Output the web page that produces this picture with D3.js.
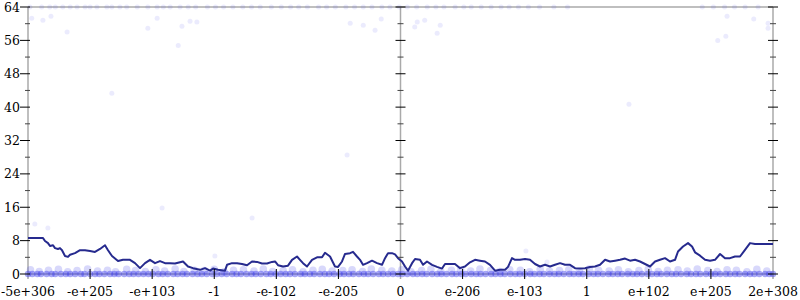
<!DOCTYPE html>
<html>
<head>
<meta charset="utf-8">
<script src="https://cdn.jsdelivr.net/npm/d3@7"></script>
<style>
  body { margin: 0; background: #fff; }
  text { font-family: "DejaVu Serif", serif; font-size: 12.5px; fill: #000; }
</style>
</head>
<body>
<svg id="chart" width="800" height="300"></svg>
<script>
// tick labels along the float-ordered x axis (one every 10 units)
const xTickLabels = ['-5e+306', '-e+205', '-e+103', '-1', '-e-102', '-e-205', '0',
  'e-206', 'e-103', '1', 'e+102', 'e+205', '2e+308']
const yTicks = [0, 8, 16, 24, 32, 40, 48, 56, 64]

// averaged error line: positions (0..120) and bits of error
const lineX = [0, 2.42, 2.74, 3.22, 3.54, 4.03, 4.35, 4.83, 5.15, 5.48, 5.96, 6.44, 6.77, 7.57,
  8.38, 9.18, 9.99, 10.79, 11.6, 12.4, 12.89, 13.53, 14.5, 15.3, 16.43, 17.24, 18.04, 18.85,
  19.65, 20.46, 21.26, 22.07, 22.87, 23.68, 24.97, 25.77, 26.58, 27.71, 28.51, 29.32, 29.8,
  30.61, 31.73, 32.06, 32.86, 33.67, 34.47, 35.28, 36.08, 36.89, 37.69, 38.5, 39.3, 39.79,
  40.27, 41.08, 41.88, 42.53, 43.33, 43.81, 44.3, 44.94, 45.75, 46.55, 47.36, 47.84, 48.65,
  49.45, 49.94, 50.58, 51.06, 51.87, 52.35, 52.99, 53.48, 53.96, 54.61, 55.41, 56.22, 57.02,
  57.51, 57.99, 58.63, 59.12, 59.6, 60.24, 60.73, 61.21, 61.86, 62.34, 63.14, 63.63, 64.27,
  65.08, 65.88, 66.69, 67.17, 67.98, 68.78, 69.59, 70.39, 71.2, 72.0, 72.81, 73.61, 74.42,
  75.23, 76.03, 76.84, 77.32, 77.96, 78.45, 79.25, 80.06, 80.86, 81.67, 82.47, 83.28, 84.09,
  84.89, 85.7, 86.5, 87.31, 88.11, 88.92, 89.72, 90.53, 91.33, 92.14, 92.95, 93.75, 94.56,
  95.36, 96.17, 96.97, 97.78, 98.58, 99.39, 100.19, 101.0, 101.8, 102.61, 103.41, 104.22,
  104.7, 105.51, 106.31, 106.96, 107.44, 108.25, 109.05, 109.86, 110.66, 111.47, 112.27,
  113.08, 113.88, 114.69, 115.49, 116.3, 117.1, 117.91, 120]
const lineErr = [8.6, 8.6, 7.9, 7.4, 6.7, 6.9, 6.2, 6.0, 6.2, 5.7, 4.3, 4.1, 4.6, 5.0, 5.7,
  5.7, 5.5, 5.3, 6.0, 6.9, 5.7, 4.3, 3.1, 3.4, 3.4, 2.6, 1.4, 2.6, 3.4, 2.6, 3.1, 2.6, 2.6,
  2.5, 3.0, 1.8, 1.4, 1.0, 1.4, 0.8, 1.3, 1.0, 0.8, 2.2, 2.6, 2.6, 2.4, 2.1, 3.0, 2.9, 2.5,
  2.5, 2.9, 3.0, 2.1, 1.8, 2.0, 3.4, 4.2, 3.4, 2.6, 1.8, 3.4, 4.0, 4.0, 5.1, 4.2, 1.8, 1.7,
  3.0, 4.8, 5.0, 5.3, 4.2, 3.4, 2.2, 2.6, 3.2, 2.6, 2.2, 3.8, 5.0, 5.0, 4.7, 3.8, 3.0, 1.8,
  0.8, 2.6, 3.6, 3.4, 2.2, 3.0, 2.2, 1.7, 1.3, 2.4, 2.4, 2.4, 1.4, 1.8, 2.8, 3.4, 3.2, 3.0,
  2.2, 0.8, 1.0, 1.0, 1.7, 3.8, 3.4, 3.4, 3.6, 3.4, 2.4, 1.8, 2.2, 1.8, 2.2, 2.6, 2.2, 2.2,
  1.4, 1.3, 1.4, 1.7, 1.8, 2.2, 3.4, 3.0, 3.2, 3.4, 3.7, 3.2, 3.4, 3.0, 2.4, 1.8, 3.0, 3.4,
  3.8, 3.0, 3.4, 5.4, 6.6, 7.4, 6.6, 5.2, 4.4, 3.4, 3.2, 3.4, 4.8, 3.8, 3.8, 4.2, 4.2, 5.8,
  7.4, 7.2, 7.2, 7.2]

// sample points with (almost) no error
const zeroX = [0, 0.7, 1.5, 2.1, 3, 3.8, 4.4, 5.3, 6.1, 6.8, 7.6, 8.5, 9.1, 10, 10.8, 11.5, 12.3,
  13.2, 13.9, 14.6, 15.5, 16.3, 17, 17.8, 18.6, 19.4, 20.1, 21, 21.7, 22.5, 23.4, 24.1, 24.9,
  25.6, 26.5, 27.3, 28, 28.8, 29.7, 30.4, 31.2, 32, 32.9, 33.6, 34.3, 35.2, 36, 36.7, 37.5,
  38.4, 39.1, 39.9, 40.7, 41.5, 42.2, 43, 43.9, 44.6, 45.4, 46.1, 47, 47.8, 48.5, 49.3, 50.2,
  50.9, 51.7, 52.4, 53.3, 54.1, 54.8, 55.6, 56.5, 57.2, 58, 58.8, 59.6, 60.3, 61.1, 62, 62.7,
  63.5, 64.2, 65.1, 65.9, 66.6, 67.4, 68.3, 69, 69.8, 70.5, 71.4, 72.2, 72.9, 73.7, 74.6, 75.3,
  76.1, 76.8, 77.7, 78.5, 79.2, 80, 80.9, 81.6, 82.4, 83.1, 84, 84.8, 85.5, 86.3, 87.2, 87.9,
  88.7, 89.4, 90.3, 91.1, 91.8, 92.6, 93.5, 94.2, 95, 95.7, 96.6, 97.4, 98.1, 98.9, 99.8,
  100.5, 101.3, 102, 102.9, 103.7, 104.4, 105.2, 106.1, 106.8, 107.6, 108.3, 109.2, 110,
  110.7, 111.5, 112.4, 113.1, 113.9, 114.6, 115.5, 116.3, 117, 117.8, 118.7, 119.4, 120]

// low-error points making the lighter upper edge of the band
const lowX = [0.4, 1.8, 3.3, 4.9, 6.4, 7.9, 9.6, 11.2, 12.8, 14.1, 15.9, 17.3, 18.9, 20.6, 22,
  23.7, 25.1, 26.8, 28.4, 30, 31.6, 33.1, 34.7, 36.4, 37.9, 39.4, 41.1, 42.6, 44.3, 45.9,
  47.4, 49, 50.7, 52.2, 53.9, 55.3, 57, 58.6, 60.2, 61.7, 63.4, 64.9, 66.5, 68.2, 69.7, 71.3,
  72.8, 74.5, 76, 77.6, 79.3, 80.8, 82.5, 84, 85.6, 87.1, 88.8, 90.4, 91.9, 93.6, 95.1, 96.7,
  98.4, 99.9, 101.5, 103, 104.7, 106.2, 107.8, 109.5, 111, 112.6, 114.1, 115.8, 117.4, 119]
const lowErr = [1.0, 0.6, 0.9, 1.1, 0.5, 0.8, 1.2, 0.7, 0.9, 0.5, 1.1, 0.8, 0.6, 1.0, 0.7,
  1.2, 0.6, 0.9, 0.8, 1.1, 0.5, 0.9, 1.0, 0.7, 1.2, 0.6, 0.8, 1.0, 0.5, 0.9, 1.1, 0.7, 0.8,
  1.0, 0.6, 1.2, 0.9, 0.7, 1.0, 0.5, 0.8, 1.1, 0.6, 0.9, 1.0, 0.7, 1.2, 0.8, 0.6, 1.0, 0.9,
  0.5, 1.1, 0.7, 0.8, 1.0, 0.6, 1.2, 0.9, 0.7, 1.0, 0.5, 0.8, 1.1, 0.6, 0.9, 1.0, 0.7, 1.2,
  0.8, 0.6, 1.0, 0.9, 0.5, 1.1, 0.7]

// sample points with full error, along the top
const topX = [0.3, 2.2, 3.5, 4.4, 5.6, 6.8, 7.9, 9.2, 10, 11.1, 12.7, 13.5, 14.8, 15.9, 17.6,
  19.3, 20.8, 21.8, 22.9, 24.5, 25.8, 27, 28.9, 30.2, 31.5, 33, 34.6, 36, 37.4, 39.2, 40.8,
  42.3, 43.6, 45, 46.8, 48.1, 49.5, 51.2, 52.6, 54, 55.4, 57, 58.3, 59.8, 61.1, 62.6, 64.3,
  65.7, 67, 68.8, 70.2, 71.4, 73, 74.6, 76.2, 77.5, 79, 80.6, 82.4, 84.7, 86.9, 108.6, 110.4,
  112.2, 113.8, 115.5, 117.6]

// scattered points in between
const midX = [0.6, 2.4, 3.7, 6.3, 13.5, 19.3, 20.8, 24.8, 24.2, 26.1, 27.2, 51.9, 54, 55.9,
  56.9, 62.7, 63.9, 62.3, 66.4, 65.9, 112.6, 116.9, 119.2, 119.2, 111.1, 112.4, 96.8, 51.4,
  21.6, 1.1, 3.2, 36.1, 30.1, 80.2, 83.6]
const midErr = [61.3, 60.8, 61.8, 58.0, 43.3, 58.9, 61.3, 59.4, 54.8, 60.6, 60.4, 60.1, 59.6,
  58.4, 61.1, 60.4, 60.8, 59.2, 59.6, 57.7, 61.8, 61.1, 60.1, 58.9, 56.0, 57.0, 40.7, 28.5,
  15.8, 12.0, 11.0, 13.4, 4.3, 5.5, 2.9]

const svg = d3.select('#chart')
const xScale = d3.scaleLinear().domain([0, 120]).range([28, 773])
const yScale = d3.scaleLinear().domain([0, 64]).range([274, 7])

// frame: grey axis lines
const frame = svg.append('g').attr('stroke', '#aaa').attr('stroke-width', 1.5)
frame.append('line')
  .attr('x1', xScale(0)).attr('x2', xScale(120))
  .attr('y1', yScale(64)).attr('y2', yScale(64))
frame.append('line')
  .attr('x1', xScale(0)).attr('x2', xScale(120))
  .attr('y1', yScale(0)).attr('y2', yScale(0))
;[0, 60, 120].forEach(u => {
  frame.append('line')
    .attr('x1', xScale(u)).attr('x2', xScale(u))
    .attr('y1', yScale(64)).attr('y2', yScale(0) + 5)
})

// points, in groups of different density
function drawPoints (pts, r, opacity) {
  svg.append('g')
    .selectAll('circle')
    .data(pts)
    .enter()
    .append('circle')
    .attr('cx', d => xScale(d[0]))
    .attr('cy', d => yScale(d[1]))
    .attr('r', r)
    .style('fill', 'rgb(60,60,235)')
    .style('fill-opacity', opacity)
}
drawPoints(lowX.map((x, i) => [x, lowErr[i]]), 3.8, 0.2)
drawPoints(zeroX.map(x => [x, 0]), 3.2, 0.45)
drawPoints(topX.map(x => [x, 64]), 2.5, 0.1)
drawPoints(midX.map((x, i) => [x, midErr[i]]), 2.5, 0.1)

// error line
svg.append('path')
  .datum(lineX.map((x, i) => [x, lineErr[i]]))
  .attr('d', d3.line().x(d => xScale(d[0])).y(d => yScale(d[1])))
  .style('fill', 'none')
  .style('stroke', '#262a8e')
  .style('stroke-width', 2)
  .style('stroke-linejoin', 'round')

// y ticks on the three vertical axes
const ticks = svg.append('g').attr('stroke', '#000').attr('stroke-width', 1)
const minor = d3.range(4, 64, 8)
;[[0, -8, 2, -3, 2], [60, -5, 5, -3, 3], [120, -5, 5, -3, 3]].forEach(([u, a, b, c, e]) => {
  const x = xScale(u)
  yTicks.forEach(t => {
    ticks.append('line').attr('x1', x + a).attr('x2', x + b)
      .attr('y1', yScale(t)).attr('y2', yScale(t))
  })
  minor.forEach(t => {
    ticks.append('line').attr('x1', x + c).attr('x2', x + e)
      .attr('y1', yScale(t)).attr('y2', yScale(t))
      .attr('stroke', '#444')
  })
})

// x ticks
xTickLabels.forEach((lab, i) => {
  const x = xScale(i * 10)
  if (i % 6 !== 0) {
    ticks.append('line').attr('x1', x).attr('x2', x)
      .attr('y1', yScale(0) - 5).attr('y2', yScale(0) + 5)
  }
  svg.append('text')
    .attr('x', x).attr('y', 296)
    .attr('text-anchor', 'middle')
    .text(lab)
})

// y labels
yTicks.forEach(t => {
  svg.append('text')
    .attr('x', 20).attr('y', yScale(t) + 4.5)
    .attr('text-anchor', 'end')
    .text(t)
})
</script>
</body>
</html>
